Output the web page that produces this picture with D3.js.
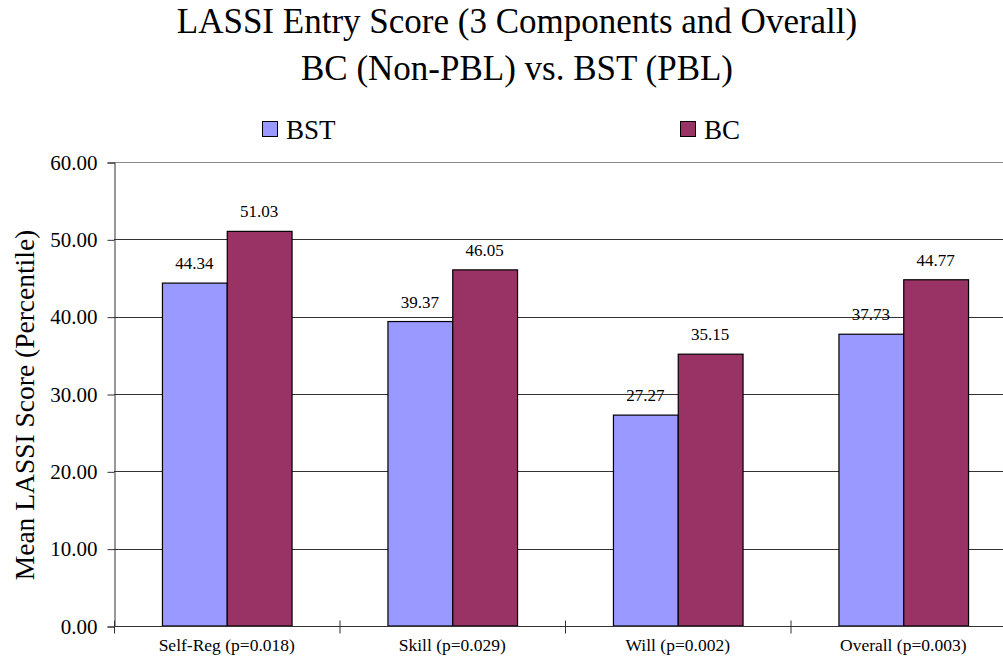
<!DOCTYPE html>
<html>
<head>
<meta charset="utf-8">
<script src="https://cdn.jsdelivr.net/npm/d3@7/dist/d3.min.js"></script>
<style>
  html, body { margin: 0; padding: 0; background: #fff; }
  svg { display: block; }
  svg text { font-family: "Liberation Serif", "Times New Roman", serif; fill: #000; }
</style>
</head>
<body>
<svg id="chart" width="1003" height="658"></svg>
<script>
// LASSI entry scores by component
const categories = ["Self-Reg (p=0.018)", "Skill (p=0.029)", "Will (p=0.002)", "Overall (p=0.003)"];
const seriesNames = ["BST", "BC"];
const bstValues = [44.34, 39.37, 27.27, 37.73];
const bcValues = [51.03, 46.05, 35.15, 44.77];
const yTicks = [0, 10, 20, 30, 40, 50, 60];
const titleLines = ["LASSI Entry Score (3 Components and Overall)", "BC (Non-PBL) vs. BST (PBL)"];
const colors = { BST: "#9999FF", BC: "#993366" };

const FONT = "Liberation Serif";
const svg = d3.select("#chart");
const W = 1003;
const plotLeft = 114, plotRight = 1016, plotTop = 162, plotBottom = 626;

const x = d3.scaleBand().domain(categories).range([plotLeft, plotRight]);
const xs = d3.scaleBand().domain(seriesNames).range([0, x.bandwidth()]).paddingOuter(0.74).paddingInner(0);
const y = d3.scaleLinear().domain([0, 60]).range([plotBottom, plotTop]);

// Title
svg.selectAll("text.title").data(titleLines).join("text")
  .attr("class", "title")
  .attr("x", 517).attr("y", (d, i) => 33 + i * 47)
  .attr("text-anchor", "middle")
  .attr("font-family", FONT)
  .attr("font-size", 35)
  .text(d => d);

// Legend
const legendX = [262, 680];
const lg = svg.selectAll("g.legend").data(seriesNames).join("g")
  .attr("class", "legend")
  .attr("transform", (d, i) => `translate(${legendX[i]},121)`);
lg.append("rect").attr("x", 0.5).attr("y", 0.5).attr("width", 15).attr("height", 15)
  .attr("fill", d => colors[d]).attr("stroke", "#000").attr("stroke-width", 1);
lg.append("text").attr("x", 24).attr("y", 18).attr("font-family", FONT).attr("font-size", 27).text(d => d);

// Gridlines
svg.append("g").selectAll("line").data(yTicks.filter(t => t > 0)).join("line")
  .attr("x1", plotLeft).attr("x2", W)
  .attr("y1", d => Math.round(y(d)) + 0.5).attr("y2", d => Math.round(y(d)) + 0.5)
  .attr("stroke", d => d === 60 ? "#888" : "#333").attr("stroke-width", 1);

// Y axis
const yAxis = svg.append("g").attr("transform", `translate(${plotLeft + 0.5},0.5)`)
  .call(d3.axisLeft(y).tickValues(yTicks).tickFormat(d3.format(".2f")).tickSize(7).tickPadding(10));
yAxis.select(".domain").attr("stroke", "#333");
yAxis.selectAll(".tick line").attr("stroke", "#333");
yAxis.selectAll("text").attr("font-size", 21).attr("font-family", FONT).attr("fill", "#000");

// Y axis title
svg.append("text")
  .attr("transform", `translate(34,${(plotTop + plotBottom) / 2 + 11}) rotate(-90)`)
  .attr("text-anchor", "middle").attr("font-family", FONT).attr("font-size", 27.5)
  .text("Mean LASSI Score (Percentile)");

// Bars
const rows = categories.map((c, i) => ({ cat: c, vals: [
  { key: "BST", v: bstValues[i] }, { key: "BC", v: bcValues[i] } ] }));
const groups = svg.append("g").selectAll("g").data(rows).join("g")
  .attr("transform", d => `translate(${x(d.cat)},0)`);
groups.selectAll("rect").data(d => d.vals).join("rect")
  .attr("x", d => xs(d.key) + 0.5).attr("width", xs.bandwidth())
  .attr("y", d => y(d.v)).attr("height", d => y(0) - y(d.v))
  .attr("fill", d => colors[d.key]).attr("stroke", "#000").attr("stroke-width", 1.2);
groups.selectAll("text").data(d => d.vals).join("text")
  .attr("x", d => xs(d.key) + xs.bandwidth() / 2)
  .attr("y", d => y(d.v) - 14)
  .attr("text-anchor", "middle").attr("font-family", FONT).attr("font-size", 17)
  .text(d => d.v.toFixed(2));

// X axis
const xAxis = svg.append("g").attr("transform", `translate(0,${plotBottom + 0.5})`);
xAxis.append("line").attr("x1", plotLeft).attr("x2", W).attr("stroke", "#333");
xAxis.selectAll("line.tick").data(d3.range(categories.length + 1)).join("line")
  .attr("class", "tick")
  .attr("x1", i => plotLeft + 0.5 + i * x.step()).attr("x2", i => plotLeft + 0.5 + i * x.step())
  .attr("y1", -6).attr("y2", 7).attr("stroke", "#333");
xAxis.selectAll("text").data(categories).join("text")
  .attr("x", d => x(d) + x.bandwidth() / 2).attr("y", 24)
  .attr("text-anchor", "middle").attr("font-family", FONT).attr("font-size", 17.5)
  .text(d => d);
</script>
</body>
</html>
